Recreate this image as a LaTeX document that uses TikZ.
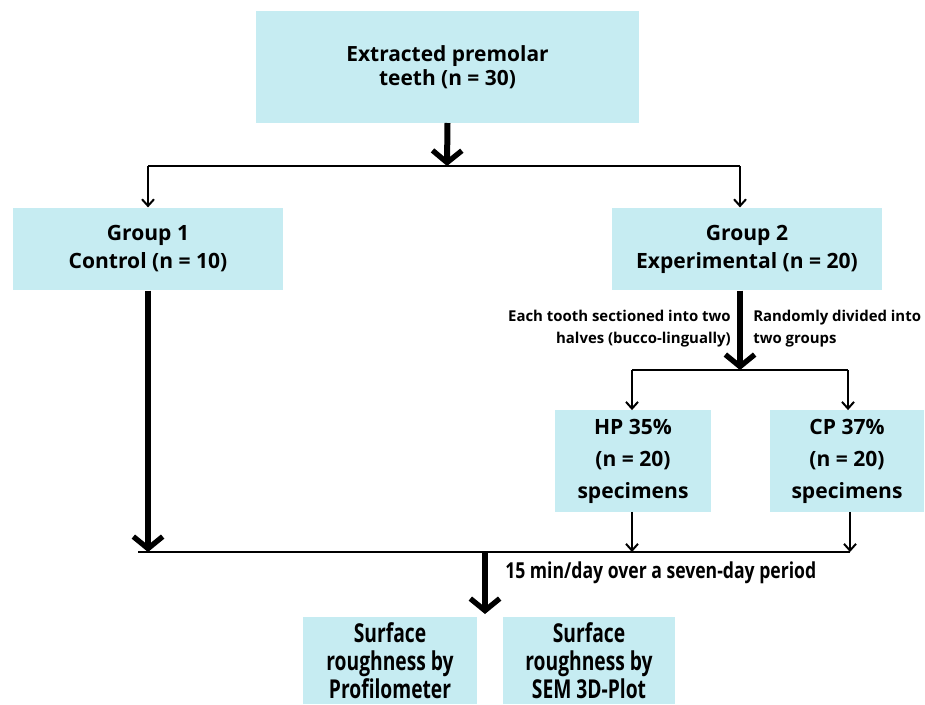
\documentclass[tikz,border=0pt]{standalone}
\usepackage{fontspec}
\setmainfont{Open Sans}
\usetikzlibrary{arrows.meta,positioning}
\definecolor{paleCyan}{HTML}{C6ECF2}

\begin{document}
\begin{tikzpicture}[x=0.75pt,y=-0.75pt,
  box/.style={rectangle,fill=paleCyan,align=center,inner sep=2pt,font=\bfseries},
  note/.style={inner sep=0pt,font=\fontsize{11.2}{16.5}\selectfont\bfseries},
  narrow/.style={font=\addfontfeature{FakeStretch=0.74}\fontsize{19.5}{21}\selectfont\bfseries,inner sep=0pt},
  bigarrow/.style={line width=4.5pt,-{Straight Barb[length=9pt,width=22pt,line width=4pt]}},
  smallarrow/.style={line width=1.5pt,-{Straight Barb[length=5pt,width=9pt,line width=1.5pt]}},
  bar/.style={line width=2.2pt}
]
\useasboundingbox (0,0) rectangle (925,704);
\fill[white] (0,0) rectangle (925,704);

% boxes
\node[box,minimum width=287pt,minimum height=84pt,font=\fontsize{15.7}{18}\selectfont\bfseries] (teeth) at (447.5,67) {Extracted premolar\\teeth (n = 30)};
\node[box,minimum width=202pt,minimum height=62pt,font=\fontsize{15.8}{21}\selectfont\bfseries] (grp1) at (148,249) {Group 1\\Control (n = 10)};
\node[box,minimum width=202pt,minimum height=62pt,font=\fontsize{15.8}{21}\selectfont\bfseries] (grp2) at (747,249) {Group 2\\Experimental (n = 20)};
\node[box,minimum width=117pt,minimum height=76pt,font=\fontsize{15.8}{24}\selectfont\bfseries] (hp) at (633,461) {HP 35\%\\(n = 20)\\specimens};
\node[box,minimum width=116pt,minimum height=76pt,font=\fontsize{15.8}{24}\selectfont\bfseries] (cp) at (847,461) {CP 37\%\\(n = 20)\\specimens};
\node[box,narrow,minimum width=130pt,minimum height=65pt] (profil) at (390,660.5) {Surface\\roughness by\\Profilometer};
\node[box,narrow,minimum width=129pt,minimum height=65pt] (semplot) at (589,660.5) {Surface\\roughness by\\SEM 3D-Plot};

% junctions
\coordinate (top) at (447,166);
\coordinate (left) at (148,166);
\coordinate (right) at (740,166);
\coordinate (mid) at (740,370);
\coordinate (midL) at (632,370);
\coordinate (midR) at (848,370);
\coordinate (low) at (485,552);
\coordinate (lowL) at (138,552);
\coordinate (lowR) at (850,552);

% first split
\draw[bigarrow] (teeth.south |- 0,123) -- (top);
\draw[bar] (left) -- (right);
\draw[smallarrow] (left) -- (grp1.north);
\draw[smallarrow] (right) -- (right |- grp2.north);

% experimental split
\draw[bigarrow] (right |- grp2.south) -- (mid);
\draw[bar] (midL) -- (midR);
\draw[smallarrow] (midL) -- (midL |- hp.north);
\draw[smallarrow] (midR) -- (midR |- cp.north);
\node[note,anchor=east,align=right] (cutnote) at (731,329) {Each tooth sectioned into two\\halves (bucco-lingually)};
\node[note,anchor=west,align=left] (splitnote) at (753,329) {Randomly divided into\\two groups};

% merge
\draw[bigarrow] (grp1.south) -- (grp1.south |- low);
\draw[smallarrow] (midL |- hp.south) -- (midL |- low);
\draw[smallarrow] (lowR |- cp.south) -- (lowR);
\draw[bar] (lowL) -- (lowR);
\draw[bigarrow] (low) -- (485,614);
\node[note,anchor=west,font=\addfontfeature{FakeStretch=0.8}\fontsize{16.5}{16}\selectfont\bfseries] (timenote) at (505,573) {15 min/day over a seven-day period};
\end{tikzpicture}
\end{document}
